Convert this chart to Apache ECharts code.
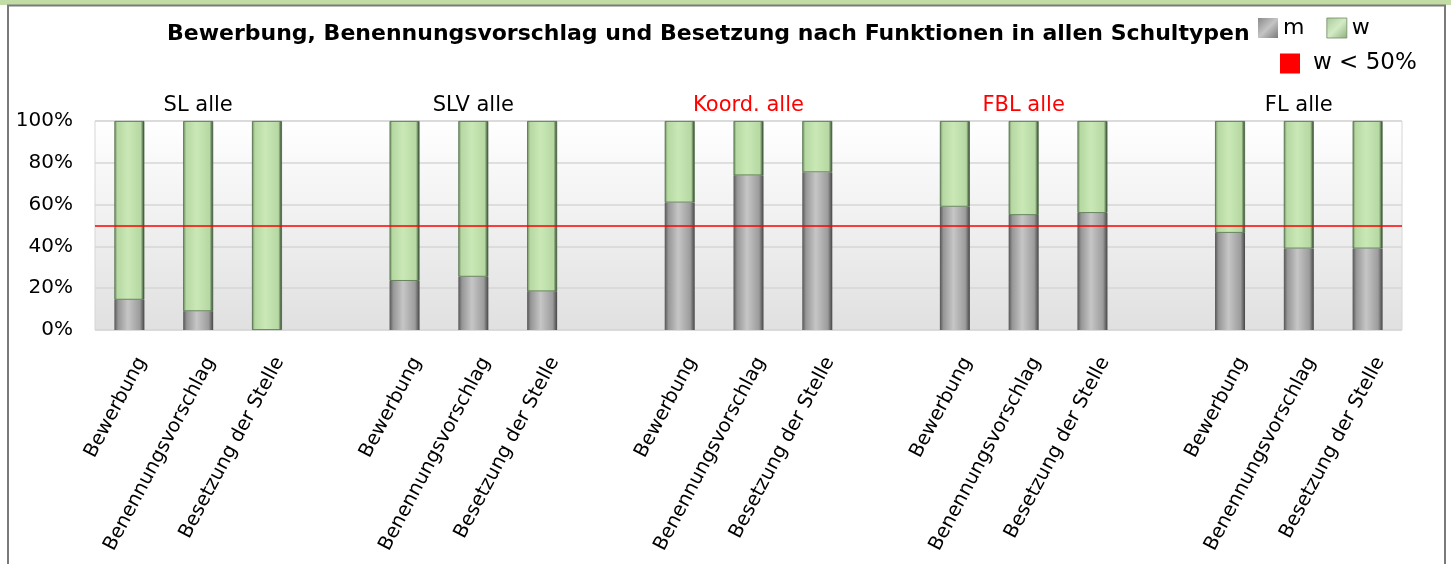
<!DOCTYPE html>
<html>
<head>
<meta charset="utf-8">
<script src="https://cdn.jsdelivr.net/npm/echarts@6/dist/echarts.min.js"></script>
<style>
  html, body { margin: 0; padding: 0; background: #ffffff; }
  #chart { width: 1451px; height: 564px; }
</style>
</head>
<body>
<div id="chart"></div>
<script>
// Functions (groups) and the three stages shown for each one
const groups = ['SL alle', 'SLV alle', 'Koord. alle', 'FBL alle', 'FL alle'];
const groupHighlighted = [false, false, true, true, false];
const stages = ['Bewerbung', 'Benennungsvorschlag', 'Besetzung der Stelle'];

// Share of men (m) and women (w) in percent, per group and stage
const mShare = [
  [14.5, 9, 0],
  [23.5, 25.5, 18.5],
  [61, 74, 75.5],
  [59, 55, 56],
  [46.5, 39, 39]
];
const wShare = [
  [85.5, 91, 100],
  [76.5, 74.5, 81.5],
  [39, 26, 24.5],
  [41, 45, 44],
  [53.5, 61, 61]
];

const yTicks = [0, 20, 40, 60, 80, 100];
const threshold = 50;

// Flatten into one category axis with an empty slot between groups
const categories = [];
const topLabels = [];
const mData = [];
const wData = [];
groups.forEach((g, gi) => {
  if (gi > 0) {
    categories.push('');
    topLabels.push('');
    mData.push(null);
    wData.push(null);
  }
  stages.forEach((s, si) => {
    categories.push(s);
    topLabels.push(si === 1 ? (groupHighlighted[gi] ? '{red|' + g + '}' : '{blk|' + g + '}') : '');
    mData.push(mShare[gi][si]);
    wData.push(wShare[gi][si]);
  });
});

const FONT = 'DejaVu Sans';
const G = echarts.graphic.LinearGradient;

const greyFill = new G(0, 0, 1, 0, [
  { offset: 0, color: '#555555' },
  { offset: 0.12, color: '#969696' },
  { offset: 0.45, color: '#c6c6c6' },
  { offset: 0.85, color: '#9c9c9c' },
  { offset: 1, color: '#454545' }
]);
const greenFill = new G(0, 0, 1, 0, [
  { offset: 0, color: '#6f8c60' },
  { offset: 0.1, color: '#b6d8a2' },
  { offset: 0.45, color: '#c9e8b6' },
  { offset: 0.88, color: '#b6d8a2' },
  { offset: 1, color: '#1f3320' }
]);
// Softer swatches for the legend keys
const greyKey = new G(0, 0, 1, 1, [
  { offset: 0, color: '#8a8a8a' },
  { offset: 0.5, color: '#c4c4c4' },
  { offset: 1, color: '#7a7a7a' }
]);
const greenKey = new G(0, 0, 1, 1, [
  { offset: 0, color: '#a9c79a' },
  { offset: 0.5, color: '#d3ebc5' },
  { offset: 1, color: '#8fae80' }
]);

const chart = echarts.init(document.getElementById('chart'), null, { renderer: 'canvas' });

chart.setOption({
  animation: false,
  textStyle: { fontFamily: FONT },
  title: {
    text: 'Bewerbung, Benennungsvorschlag und Besetzung nach Funktionen in allen Schultypen',
    left: 162,
    top: 18,
    textStyle: { fontFamily: FONT, fontWeight: 'bold', fontSize: 22, color: '#000000' }
  },
  legend: [
    {
      data: [
        { name: 'm', itemStyle: { color: greyKey, borderWidth: 0 } },
        { name: 'w', itemStyle: { color: greenKey, borderColor: '#6f8c60', borderWidth: 0.8 } }
      ],
      left: 1258,
      top: 17,
      padding: 0,
      icon: 'rect',
      itemWidth: 20,
      itemHeight: 20,
      itemGap: 22,
      selectedMode: false,
      textStyle: { fontFamily: FONT, fontSize: 22, color: '#000000' }
    },
    {
      data: ['w < 50%'],
      left: 1280,
      top: 52,
      padding: 0,
      icon: 'rect',
      itemWidth: 20,
      itemHeight: 20,
      selectedMode: false,
      textStyle: { fontFamily: FONT, fontSize: 23, color: '#000000', padding: [0, 0, 0, 8] }
    }
  ],
  grid: {
    left: 95,
    right: 49,
    top: 121,
    bottom: 234,
    show: true,
    borderColor: '#d6d6d6',
    borderWidth: 1,
    backgroundColor: new G(0, 0, 0, 1, [
      { offset: 0, color: '#ffffff' },
      { offset: 1, color: '#e0e0e0' }
    ])
  },
  xAxis: [
    {
      type: 'category',
      data: categories,
      position: 'bottom',
      axisLine: { show: false },
      axisTick: { show: false },
      axisLabel: {
        interval: 0,
        rotate: 62,
        margin: 22,
        verticalAlign: 'top',
        lineHeight: 28,
        fontFamily: FONT,
        fontSize: 19.5,
        color: '#000000'
      }
    },
    {
      type: 'category',
      data: topLabels,
      position: 'top',
      axisLine: { show: false },
      axisTick: { show: false },
      axisLabel: {
        interval: 0,
        margin: 5,
        fontFamily: FONT,
        fontSize: 21,
        rich: {
          blk: { color: '#000000', fontFamily: FONT, fontSize: 21 },
          red: { color: '#ff0000', fontFamily: FONT, fontSize: 21 }
        }
      }
    }
  ],
  yAxis: {
    type: 'value',
    min: yTicks[0],
    max: yTicks[yTicks.length - 1],
    interval: yTicks[1] - yTicks[0],
    axisLine: { show: false },
    axisTick: { show: false },
    axisLabel: {
      formatter: '{value}%',
      margin: 22,
      fontFamily: FONT,
      fontSize: 20,
      color: '#000000'
    },
    splitLine: { lineStyle: { color: '#d6d6d6', width: 1.5 } }
  },
  series: [
    {
      name: 'm',
      type: 'bar',
      stack: 'share',
      xAxisIndex: 0,
      barWidth: 30,
      data: mData,
      itemStyle: { color: greyFill, borderWidth: 0 },
      markLine: {
        silent: true,
        symbol: 'none',
        label: { show: false },
        lineStyle: { color: '#ff0000', width: 1.5, type: 'solid' },
        data: [{ yAxis: threshold }],
        z: 10
      }
    },
    {
      name: 'w',
      type: 'bar',
      stack: 'share',
      xAxisIndex: 0,
      barWidth: 30,
      data: wData,
      itemStyle: { color: greenFill, borderColor: '#4a6a42', borderWidth: 0.8 }
    },
    {
      name: 'w < 50%',
      type: 'line',
      data: [],
      itemStyle: { color: '#ff0000' },
      lineStyle: { color: '#ff0000' }
    }
  ],
  graphic: [
    { type: 'rect', shape: { x: 0, y: 0, width: 1451, height: 5 }, style: { fill: '#c1dca4' }, silent: true },
    { type: 'polyline', shape: { points: [[8, 570], [8, 5.5], [1445, 5.5], [1445, 570]] }, style: { stroke: '#7a7a7a', lineWidth: 2, fill: null }, silent: true }
  ]
});
</script>
</body>
</html>
